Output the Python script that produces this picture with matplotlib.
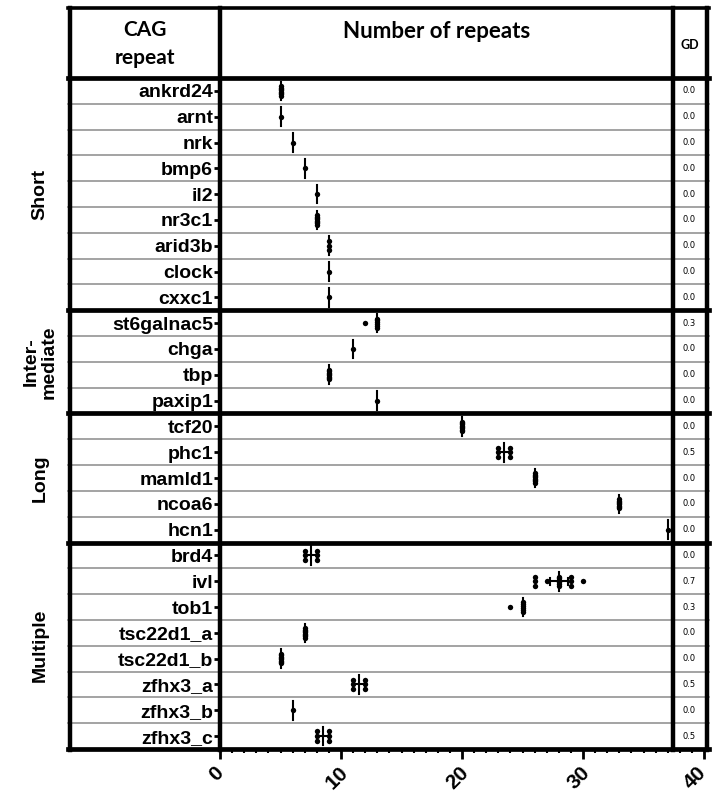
import numpy as np
import matplotlib.pyplot as plt
from matplotlib.lines import Line2D
from matplotlib.patches import Rectangle
from matplotlib.transforms import blended_transform_factory, ScaledTranslation

# --- Data ---
GROUPS = ["Short", "Inter-\nmediate", "Long", "Multiple"]
GROUP_SIZES = [9, 4, 5, 8]

GENES = ["ankrd24", "arnt", "nrk", "bmp6", "il2", "nr3c1", "arid3b", "clock", "cxxc1",
         "st6galnac5", "chga", "tbp", "paxip1",
         "tcf20", "phc1", "mamld1", "ncoa6", "hcn1",
         "brd4", "ivl", "tob1", "tsc22d1_a", "tsc22d1_b", "zfhx3_a", "zfhx3_b", "zfhx3_c"]

# (repeat number, number of individuals) per gene
ALLELES = [
    [(5, 8)], [(5, 1)], [(6, 1)], [(7, 1)], [(8, 1)], [(8, 8)], [(9, 3)], [(9, 1)], [(9, 1)],
    [(12, 1), (13, 6)], [(11, 1)], [(9, 8)], [(13, 1)],
    [(20, 8)], [(23, 3), (24, 3)], [(26, 8)], [(33, 8)], [(37, 1)],
    [(7, 3), (8, 3)], [(26, 3), (27, 1), (28, 6), (29, 3), (30, 1)], [(24, 1), (25, 6)],
    [(7, 8)], [(5, 8)], [(11, 3), (12, 3)], [(6, 1)], [(8, 3), (9, 3)],
]

GD = [0.0, 0.0, 0.0, 0.0, 0.0, 0.0, 0.0, 0.0, 0.0,
      0.3, 0.0, 0.0, 0.0,
      0.0, 0.5, 0.0, 0.0, 0.0,
      0.0, 0.7, 0.3, 0.0, 0.0, 0.5, 0.0, 0.5]

X_TICKS = [0, 10, 20, 30, 40]

# --- Layout in pixels ---
W, H = 712, 795
LEFT, SEP1, SEP2, RIGHT = 70, 220, 673, 707
HEAD_TOP, BODY_TOP, BODY_BOT = 8, 78, 749
X0, X40 = 220, 704


def fx(px):
    return px / W


def fy(py):
    return 1 - py / H


fig = plt.figure(figsize=(W / 100, H / 100), dpi=100)
ax = fig.add_axes([fx(X0), fy(BODY_BOT), fx(X40) - fx(X0), fy(BODY_TOP) - fy(BODY_BOT)])
n = len(GENES)
ax.set_xlim(0, 40)
ax.set_ylim(n - 0.5, -0.5)
for s in ax.spines.values():
    s.set_visible(False)

# points, median line and interquartile bar
for i, alleles in enumerate(ALLELES):
    vals = []
    for v, c in alleles:
        offs = np.linspace(-0.18, 0.18, c) if c > 1 else np.array([0.0])
        ax.scatter(np.full(c, v), i + offs, s=15, color="black", linewidths=0, zorder=3)
        vals += [v] * c
    q1, med, q3 = np.percentile(vals, [25, 50, 75])
    ax.plot([med, med], [i - 0.36, i + 0.36], color="black", lw=1.5, zorder=4)
    if q3 > q1:
        ax.plot([q1, q3], [i, i], color="black", lw=1.5, zorder=4)
        for q in (q1, q3):
            ax.plot([q, q], [i - 0.14, i + 0.14], color="black", lw=1.5, zorder=4)

ax.set_yticks(range(n))
ax.set_yticklabels(GENES, fontfamily="Liberation Sans", fontweight="bold", fontsize=14)
ax.tick_params(axis="y", direction="out", length=4, width=2, pad=1)
ax.set_xticks(X_TICKS)
ax.set_xticks(range(0, 41), minor=True)
ax.set_xticklabels([str(t) for t in X_TICKS], rotation=45, fontfamily="Liberation Sans",
                   fontweight="bold", fontsize=15)
ax.tick_params(axis="x", which="major", direction="out", length=7, width=2, pad=3)
ax.tick_params(axis="x", which="minor", direction="out", length=3, width=1.5)
labels = ax.get_xticklabels()
for j, lab in enumerate(labels):
    dx = -9 if j == len(labels) - 1 else -4
    lab.set_transform(lab.get_transform() + ScaledTranslation(dx / 100, 0, fig.dpi_scale_trans))

# GD column background
fig.add_artist(Rectangle((fx(SEP2), fy(BODY_BOT)), fx(RIGHT) - fx(SEP2),
                         fy(HEAD_TOP) - fy(BODY_BOT), transform=fig.transFigure,
                         facecolor="white", edgecolor="none", zorder=2))

# table grid
trans = blended_transform_factory(fig.transFigure, ax.transData)
bounds = np.cumsum(GROUP_SIZES)[:-1] - 0.5
for k in range(n + 1):
    yv = k - 0.5
    thick = k in (0, n) or yv in bounds
    fig.add_artist(Line2D([fx(LEFT - 2), fx(RIGHT + 2)], [yv, yv], transform=trans,
                          color="black" if thick else "#8a8a8a", lw=3.4 if thick else 1.1,
                          zorder=5))
for xp in (LEFT, SEP1, SEP2, RIGHT):
    fig.add_artist(Line2D([fx(xp), fx(xp)], [fy(HEAD_TOP), fy(BODY_BOT + 1)],
                          color="black", lw=3.2, zorder=5))
fig.add_artist(Line2D([fx(LEFT - 2), fx(RIGHT + 2)], [fy(HEAD_TOP), fy(HEAD_TOP)],
                      color="black", lw=2.6, zorder=5))

# header
fig.text(fx(145), fy(44), "CAG\nrepeat", ha="center", va="center", fontfamily="Lato",
         fontweight="bold", fontsize=15, linespacing=1.45)
fig.text(fx(437), fy(31), "Number of repeats", ha="center", va="center",
         fontfamily="Lato", fontweight="bold", fontsize=16)
fig.text(fx(690), fy(45), "GD", ha="center", va="center", fontfamily="Lato",
         fontweight="bold", fontsize=9)

# GD values
for i, g in enumerate(GD):
    fig.text(fx(689), i, f"{g:.1f}", transform=trans, ha="center", va="center",
             fontsize=6, fontfamily="DejaVu Sans", zorder=6)

# group labels
start = 0
for name, size in zip(GROUPS, GROUP_SIZES):
    mid = start + (size - 1) / 2
    fig.text(fx(40), mid, name, transform=trans, rotation=90, ha="center", va="center",
             fontfamily="Liberation Sans", fontweight="bold", fontsize=14, linespacing=1.1)
    start += size

fig.savefig("out.png", dpi=100)
